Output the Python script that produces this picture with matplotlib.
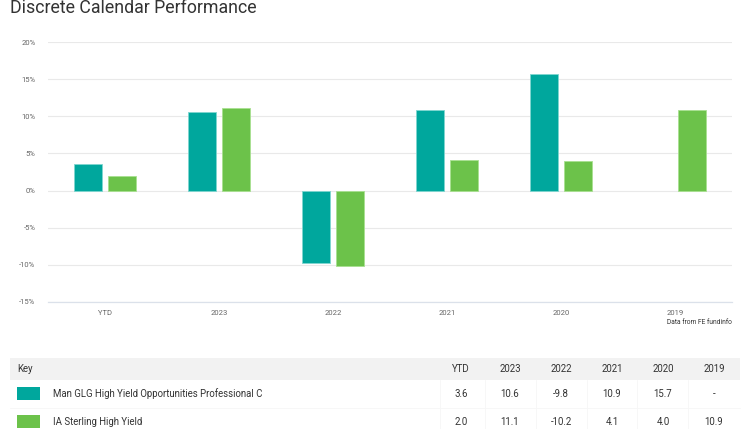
import matplotlib.pyplot as plt
import matplotlib.patches as mpatches
import numpy as np

categorias = ['YTD', '2023', '2022', '2021', '2020', '2019']
man_glg = [3.6, 10.6, -9.8, 10.9, 15.7, np.nan]
ia_sterling = [2.0, 11.1, -10.2, 4.1, 4.0, 10.9]
nomes = ['Man GLG High Yield Opportunities Professional C', 'IA Sterling High Yield']
tabela_man = ['3.6', '10.6', '-9.8', '10.9', '15.7', '-']
tabela_ia = ['2.0', '11.1', '-10.2', '4.1', '4.0', '10.9']
yticks = [-15, -10, -5, 0, 5, 10, 15, 20]

cor_teal = '#00a79d'
cor_verde = '#6cc24a'
cor_texto = '#333333'

plt.rcParams['font.family'] = ['Roboto', 'DejaVu Sans']

W, H = 752, 429
fig = plt.figure(figsize=(W / 100, H / 100), dpi=100)

def fx(px):
    return px / W

def fy(py):
    return 1 - py / H

# eixo principal
ax = fig.add_axes([fx(48), fy(302), fx(732) - fx(48), fy(42) - fy(302)])
x = np.arange(len(categorias))
largura = 0.245
desloc = 0.149
ax.bar(x - desloc, man_glg, largura, color=cor_teal, edgecolor='#7fd6d0', linewidth=0.6, zorder=3)
ax.bar(x + desloc, ia_sterling, largura, color=cor_verde, edgecolor='#a8e090', linewidth=0.6, zorder=3)

ax.set_xlim(-0.5, len(categorias) - 0.5)
ax.set_ylim(-15, 20)
ax.set_yticks(yticks)
ax.set_yticklabels([f'{v}%' for v in yticks])
ax.set_xticks(x)
ax.set_xticklabels(categorias)
ax.tick_params(axis='both', length=0, labelsize=5.5, colors='#666666')
ax.tick_params(axis='y', pad=9)
ax.tick_params(axis='x', pad=6)
ax.grid(True, axis='y', color='#e9e9e9', linewidth=0.8, zorder=0)
for lado in ['top', 'right', 'left']:
    ax.spines[lado].set_visible(False)
ax.spines['bottom'].set_color('#dbe1ea')
ax.spines['bottom'].set_linewidth(0.9)

fig.text(fx(10), fy(8), 'Discrete Calendar Performance', fontsize=12.8,
         color=cor_texto, ha='left', va='center')
fig.text(fx(732), fy(322), 'Data from FE fundinfo', fontsize=4.8,
         color=cor_texto, ha='right', va='center')

# tabela
fig.patches.append(mpatches.Rectangle((fx(10), fy(380)), fx(740) - fx(10), fy(358) - fy(380),
                                      transform=fig.transFigure, facecolor='#f2f2f2',
                                      edgecolor='none', zorder=0))
col_x = [461, 510, 561, 612, 663, 714]
fig.text(fx(17), fy(369), 'Key', fontsize=6.9, color=cor_texto, ha='left', va='center')
for cx, c in zip(col_x, categorias):
    fig.text(fx(cx), fy(369), c, fontsize=6.9, color=cor_texto, ha='center', va='center')

# linhas verticais bem suaves entre colunas
for lx in [440, 485, 536, 587, 637, 688]:
    fig.add_artist(plt.Line2D([fx(lx), fx(lx)], [fy(380), fy(429)],
                              transform=fig.transFigure, color='#f6f6f6', linewidth=0.6))

linhas_y = [394, 422]
cores = [cor_teal, cor_verde]
for yy, nome, cor, vals in zip(linhas_y, nomes, cores, [tabela_man, tabela_ia]):
    fig.patches.append(mpatches.Rectangle((fx(17), fy(yy + 6)), fx(40) - fx(17), fy(yy - 7) - fy(yy + 6),
                                          transform=fig.transFigure, facecolor=cor,
                                          edgecolor='none'))
    fig.text(fx(53), fy(yy), nome, fontsize=6.9, color=cor_texto, ha='left', va='center')
    for cx, v in zip(col_x, vals):
        fig.text(fx(cx), fy(yy), v, fontsize=6.9, color=cor_texto, ha='center', va='center')

fig.add_artist(plt.Line2D([fx(10), fx(740)], [fy(408), fy(408)],
                          transform=fig.transFigure, color='#f6f6f6', linewidth=0.6))

plt.savefig('out.png', dpi=100)
plt.close()
